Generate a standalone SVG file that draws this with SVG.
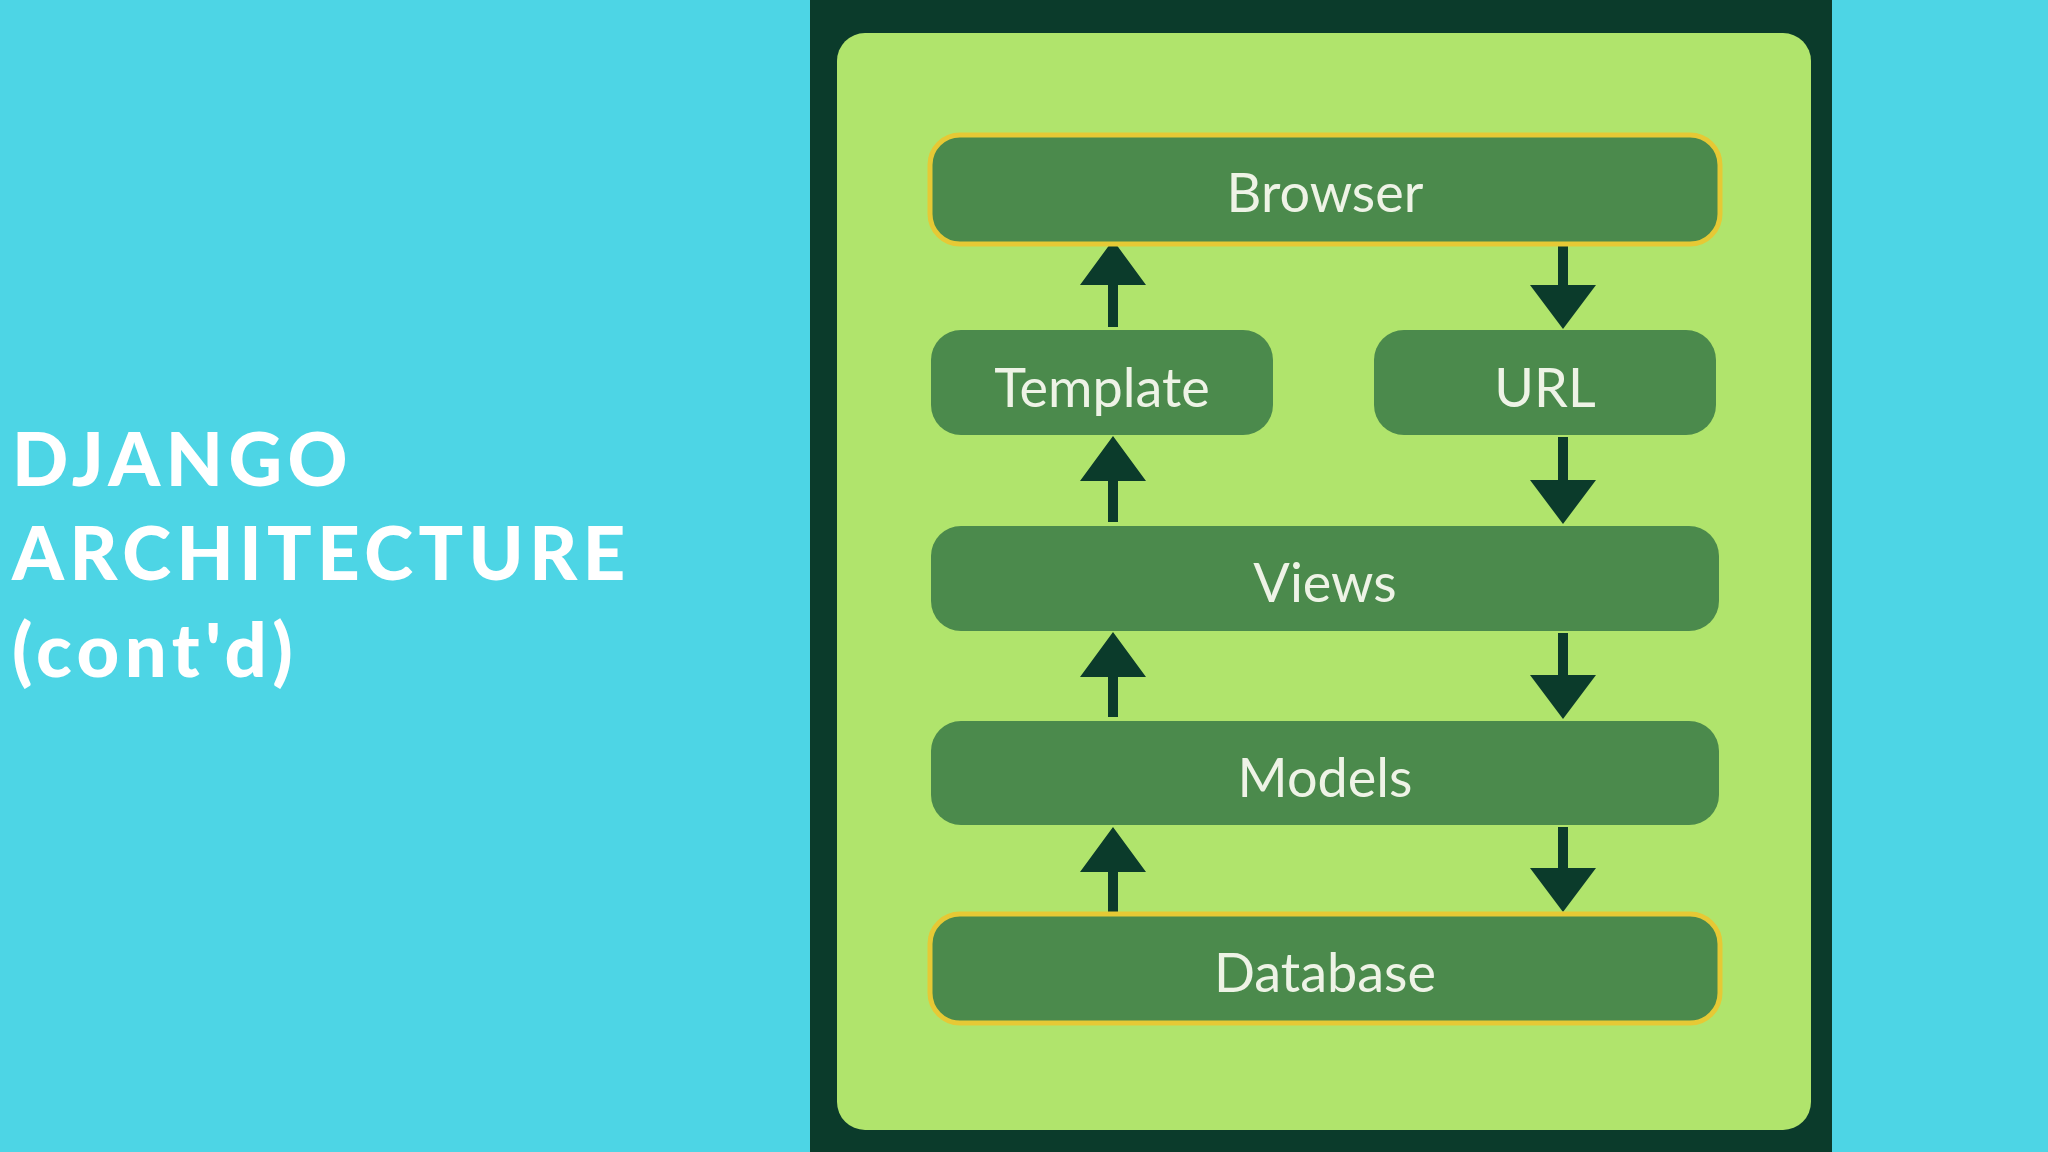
<svg xmlns="http://www.w3.org/2000/svg" width="2048" height="1152" viewBox="0 0 2048 1152">
<defs>
<style>
.node{fill:#4b8a4c;}
.edge{stroke:#e6c935;stroke-width:5;}
.lbl{font-family:Lato,"Open Sans",sans-serif;font-size:54px;fill:#eef3e6;text-anchor:middle;dominant-baseline:central;}
.ttl{font-family:Lato,"Noto Sans",sans-serif;font-weight:900;font-size:74px;fill:#ffffff;letter-spacing:5.5px;}
</style>
</defs>
<rect width="2048" height="1152" fill="#4dd5e5"/>
<g id="title">
<text class="ttl" x="12" y="486">DJANGO</text>
<text class="ttl" x="12" y="580">ARCHITECTURE</text>
<text class="ttl" x="12" y="677">(cont'd)</text>
</g>
<rect x="810" y="0" width="1022" height="1152" fill="#0b3b2b"/>
<rect x="837" y="33" width="974" height="1097" rx="28" fill="#b0e46c"/>
<g id="connectors" fill="#0b3b2b">
<g id="up">
<path d="M1108,327 V285 H1080 L1113,240 L1146,285 H1118 V327 z"/>
<path d="M1108,522 V481 H1080 L1113,436 L1146,481 H1118 V522 z"/>
<path d="M1108,717 V677 H1080 L1113,632 L1146,677 H1118 V717 z"/>
<path d="M1108,912 V872 H1080 L1113,827 L1146,872 H1118 V912 z"/>
</g>
<g id="down">
<path d="M1558,244 V285 H1530 L1563,329 L1596,285 H1568 V244 z"/>
<path d="M1558,437 V480 H1530 L1563,524 L1596,480 H1568 V437 z"/>
<path d="M1558,633 V675 H1530 L1563,719 L1596,675 H1568 V633 z"/>
<path d="M1558,827 V868 H1530 L1563,912 L1596,868 H1568 V827 z"/>
</g>
</g>
<g id="browser"><rect class="node edge" x="930" y="135" width="790" height="109" rx="30"/><text class="lbl" x="1325" y="191">Browser</text></g>
<g id="template"><rect class="node" x="931" y="330" width="342" height="105" rx="30"/><text class="lbl" x="1102" y="386">Template</text></g>
<g id="url"><rect class="node" x="1374" y="330" width="342" height="105" rx="30"/><text class="lbl" x="1545" y="386">URL</text></g>
<g id="views"><rect class="node" x="931" y="526" width="788" height="105" rx="30"/><text class="lbl" x="1325" y="581">Views</text></g>
<g id="models"><rect class="node" x="931" y="721" width="788" height="104" rx="30"/><text class="lbl" x="1325" y="776">Models</text></g>
<g id="database"><rect class="node edge" x="930" y="914" width="790" height="109" rx="30"/><text class="lbl" x="1325" y="971">Database</text></g>
</svg>
